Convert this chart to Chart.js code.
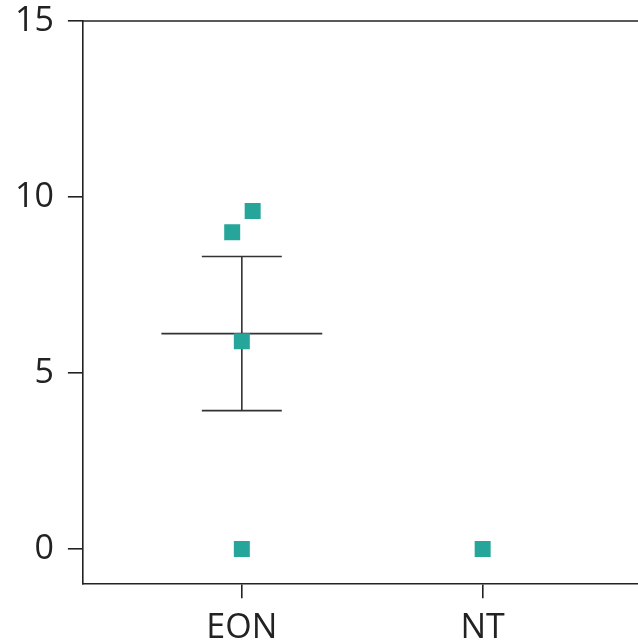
<!DOCTYPE html>
<html>
<head>
<meta charset="utf-8">
<script src="https://cdn.jsdelivr.net/npm/chart.js@4"></script>
<style>
    html, body { margin: 0; padding: 0; background: #fff; }
    #wrap { width: 638px; height: 643px; }
</style>
</head>
<body>
<div id="wrap"><canvas id="dotChart"></canvas></div>
<script>
// categories and raw values
const categories = ['EON', 'NT'];
const eonValues = [9.0, 9.6, 5.9, 0];
const eonJitter = [-0.04, 0.045, 0, 0];
const ntValues = [0];
const ntJitter = [0];

// summary for EON (mean and +/- SEM)
const eonMean = 6.12;
const eonLow = 3.93;
const eonHigh = 8.31;

const yTicks = [0, 5, 10, 15];

const axisColor = '#222';
const markColor = '#26a69a';

function toPoints(catIndex, values, jitter) {
    var pts = [];
    for (var i = 0; i < values.length; i++) {
        pts.push({x: catIndex + jitter[i], y: values[i]});
    }
    return pts;
}

// mean line with SEM whiskers, drawn under the markers
const errorBars = {
    id: 'errorBars',
    beforeDatasetsDraw(chart) {
        const ctx = chart.ctx;
        const xs = chart.scales.x;
        const ys = chart.scales.y;
        const cx = xs.getPixelForValue(0);
        const meanHalf = xs.getPixelForValue(0.334) - cx;
        const capHalf = xs.getPixelForValue(0.166) - cx;
        const yMean = ys.getPixelForValue(eonMean);
        const yLo = ys.getPixelForValue(eonLow);
        const yHi = ys.getPixelForValue(eonHigh);
        ctx.save();
        ctx.strokeStyle = '#333';
        ctx.lineWidth = 1.6;
        ctx.beginPath();
        ctx.moveTo(cx - meanHalf, yMean); ctx.lineTo(cx + meanHalf, yMean);
        ctx.moveTo(cx, yHi); ctx.lineTo(cx, yLo);
        ctx.moveTo(cx - capHalf, yHi); ctx.lineTo(cx + capHalf, yHi);
        ctx.moveTo(cx - capHalf, yLo); ctx.lineTo(cx + capHalf, yLo);
        ctx.stroke();
        ctx.restore();
    }
};

// top frame line of the plot area
const topFrame = {
    id: 'topFrame',
    afterDraw(chart) {
        const a = chart.chartArea;
        const ctx = chart.ctx;
        ctx.save();
        ctx.strokeStyle = axisColor;
        ctx.lineWidth = 1.6;
        ctx.beginPath();
        ctx.moveTo(a.left, a.top);
        ctx.lineTo(chart.width, a.top);
        ctx.stroke();
        ctx.restore();
    }
};

document.addEventListener('DOMContentLoaded', function() {
    var ctx = document.getElementById('dotChart').getContext('2d');

    var pointStyle = {
        pointStyle: 'rect',
        pointRadius: 11.3,
        pointHoverRadius: 11.3,
        backgroundColor: markColor,
        borderColor: markColor,
        borderWidth: 0
    };

    var data = {
        datasets: [
            Object.assign({label: categories[0], data: toPoints(0, eonValues, eonJitter)}, pointStyle),
            Object.assign({label: categories[1], data: toPoints(1, ntValues, ntJitter)}, pointStyle)
        ]
    };

    var options = {
        responsive: true,
        maintainAspectRatio: false,
        animation: false,
        layout: { autoPadding: false, padding: { top: 21, right: 0, bottom: -16, left: 1 } },
        plugins: {
            legend: { display: false },
            tooltip: { enabled: false }
        },
        scales: {
            x: {
                type: 'linear',
                min: -0.66,
                max: 1.645,
                afterBuildTicks: (axis) => {
                    axis.ticks = categories.map((c, i) => ({value: i}));
                },
                afterFit: (axis) => {
                    axis.paddingLeft = 0;
                    axis.paddingRight = 0;
                },
                ticks: {
                    callback: (v) => categories[v],
                    color: '#222',
                    padding: 10,
                    maxRotation: 0,
                    font: { family: 'Open Sans', size: 34 }
                },
                grid: {
                    drawOnChartArea: false,
                    drawTicks: true,
                    tickLength: 14,
                    color: axisColor,
                    lineWidth: 1.6
                },
                border: { display: true, color: axisColor, width: 1.6 }
            },
            y: {
                min: -1,
                max: 15,
                afterBuildTicks: (axis) => {
                    axis.ticks = yTicks.map((v) => ({value: v}));
                },
                afterFit: (axis) => {
                    axis.paddingTop = 0;
                    axis.paddingBottom = 0;
                },
                ticks: {
                    color: '#222',
                    padding: 14,
                    font: { family: 'Open Sans', size: 34 }
                },
                grid: {
                    drawOnChartArea: false,
                    drawTicks: true,
                    tickLength: 15,
                    color: axisColor,
                    lineWidth: 1.6
                },
                border: { display: true, color: axisColor, width: 1.6 }
            }
        }
    };

    new Chart(ctx, {
        type: 'scatter',
        data: data,
        options: options,
        plugins: [errorBars, topFrame]
    });
});
</script>
</body>
</html>
